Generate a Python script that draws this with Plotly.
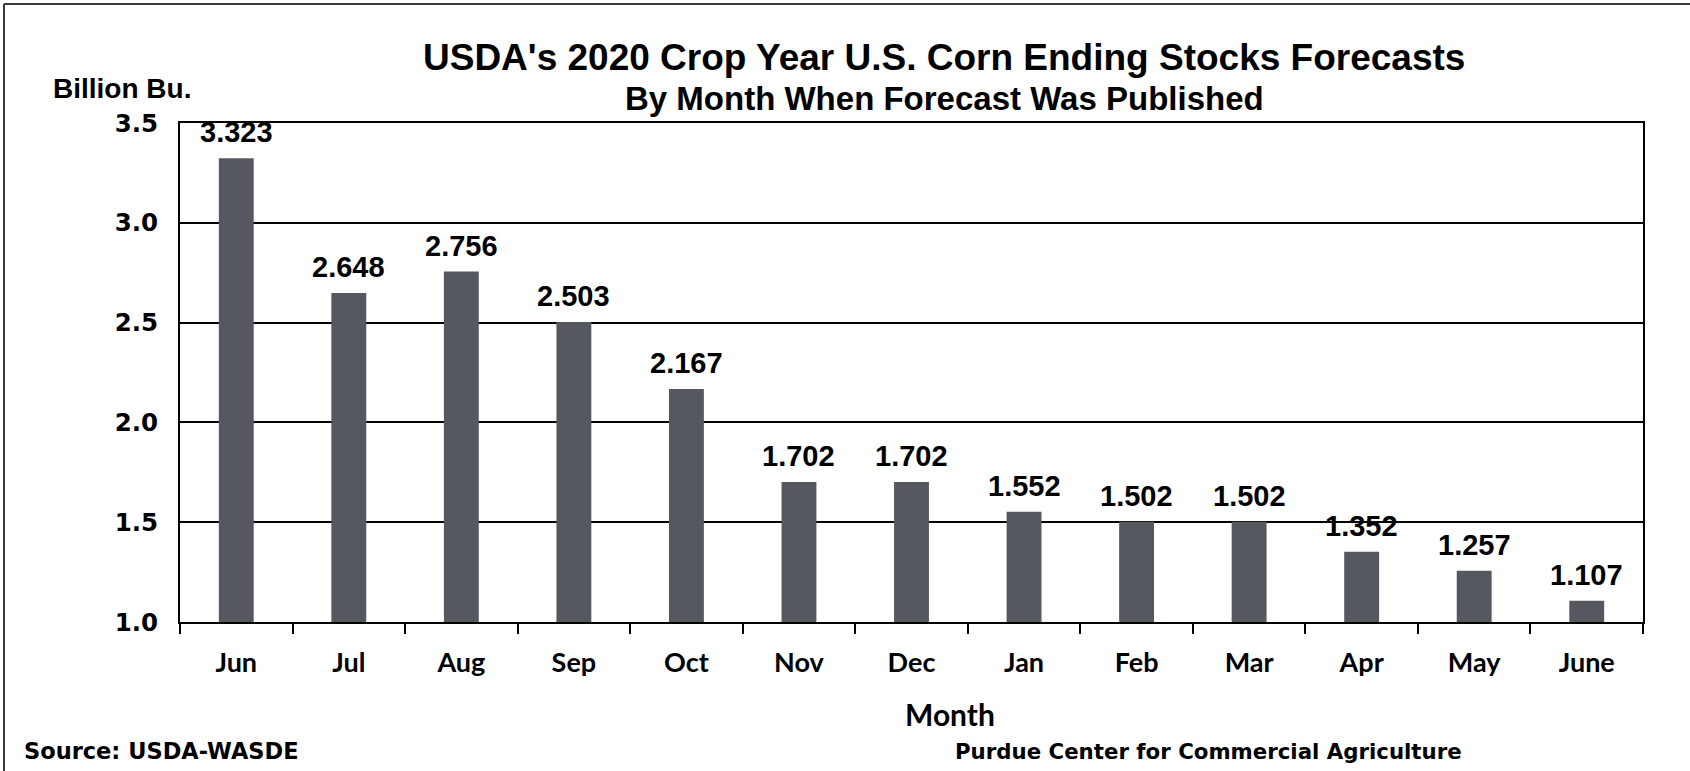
import plotly.graph_objects as go

months = ["Jun", "Jul", "Aug", "Sep", "Oct", "Nov", "Dec", "Jan", "Feb", "Mar", "Apr", "May", "June"]
stocks = [3.323, 2.648, 2.756, 2.503, 2.167, 1.702, 1.702, 1.552, 1.502, 1.502, 1.352, 1.257, 1.107]
y_ticks = [1.0, 1.5, 2.0, 2.5, 3.0, 3.5]

W, H = 1690, 771
L, R, T, B = 180, 47, 123, 149
PW, PH = W - L - R, H - T - B

def px_x(p):
    return (p - L) / PW

def px_y(p):
    return (H - B - p) / PH

bar_color = "#55595f"
arial = "Liberation Sans, Arial, sans-serif"
cal = "Lato, Carlito, Calibri, sans-serif"
verd = "DejaVu Sans, Verdana, sans-serif"

fig = go.Figure()
fig.add_trace(go.Bar(x=months, y=stocks, marker=dict(color=bar_color, line=dict(width=0)),
                     width=0.31, hoverinfo="x+y"))

annotations = []
for m, v in zip(months, stocks):
    annotations.append(dict(x=m, y=v, xref="x", yref="y", text=f"<b>{v:.3f}</b>", showarrow=False,
                            yanchor="bottom", yshift=8, font=dict(family=arial, size=29, color="black")))

annotations += [
    dict(x=px_x(944), y=px_y(57), xref="paper", yref="paper", text="<b>USDA's 2020 Crop Year U.S. Corn Ending Stocks Forecasts</b>",
         showarrow=False, xanchor="center", yanchor="middle", font=dict(family=arial, size=37, color="black")),
    dict(x=px_x(944), y=px_y(99), xref="paper", yref="paper", text="<b>By Month When Forecast Was Published</b>",
         showarrow=False, xanchor="center", yanchor="middle", font=dict(family=arial, size=33, color="black")),
    dict(x=px_x(51), y=px_y(89), xref="paper", yref="paper", text="<b>Billion Bu.</b>",
         showarrow=False, xanchor="left", yanchor="middle", font=dict(family=arial, size=28, color="black")),
    dict(x=px_x(950), y=px_y(714), xref="paper", yref="paper", text="<b>Month</b>",
         showarrow=False, xanchor="center", yanchor="middle", font=dict(family=cal, size=30, color="black")),
    dict(x=px_x(22), y=px_y(751), xref="paper", yref="paper", text="<b>Source: USDA-WASDE</b>",
         showarrow=False, xanchor="left", yanchor="middle", font=dict(family=verd, size=22.5, color="black")),
    dict(x=px_x(1208), y=px_y(751), xref="paper", yref="paper", text="<b>Purdue Center for Commercial Agriculture</b>",
         showarrow=False, xanchor="center", yanchor="middle", font=dict(family=verd, size=21.3, color="black")),
]

shapes = [
    dict(type="line", xref="paper", yref="paper", x0=px_x(4), x1=px_x(1700), y0=px_y(4), y1=px_y(4),
         line=dict(color="#3a3a3a", width=2)),
    dict(type="line", xref="paper", yref="paper", x0=px_x(4), x1=px_x(4), y0=px_y(4), y1=px_y(780),
         line=dict(color="#3a3a3a", width=2)),
]

fig.update_layout(
    width=W, height=H,
    margin=dict(l=L, r=R, t=T, b=B, pad=0),
    paper_bgcolor="white", plot_bgcolor="white",
    showlegend=False,
    annotations=annotations,
    shapes=shapes,
    bargap=0.69,
)
fig.update_xaxes(type="category", categoryorder="array", categoryarray=months,
                 showline=True, linecolor="black", linewidth=2, mirror=True,
                 ticks="outside", tickson="boundaries", ticklen=10, tickwidth=1.5, tickcolor="black",
                 tickfont=dict(family=cal, size=27, color="black", weight="bold"),
                 ticklabelstandoff=16, showgrid=False)
fig.update_yaxes(range=[1.0, 3.5], tickvals=y_ticks, ticktext=[f"{t:.1f}" for t in y_ticks],
                 showline=True, linecolor="black", linewidth=2, mirror=True,
                 showgrid=True, gridcolor="black", gridwidth=1.5, zeroline=False, ticks="",
                 tickfont=dict(family=verd, size=24.5, color="black", weight="bold"),
                 ticklabelstandoff=15)

fig.write_html("out.html", config={"displayModeBar": False},
               post_script="document.body.style.margin='0';document.body.style.padding='0';document.body.style.overflow='hidden';")
